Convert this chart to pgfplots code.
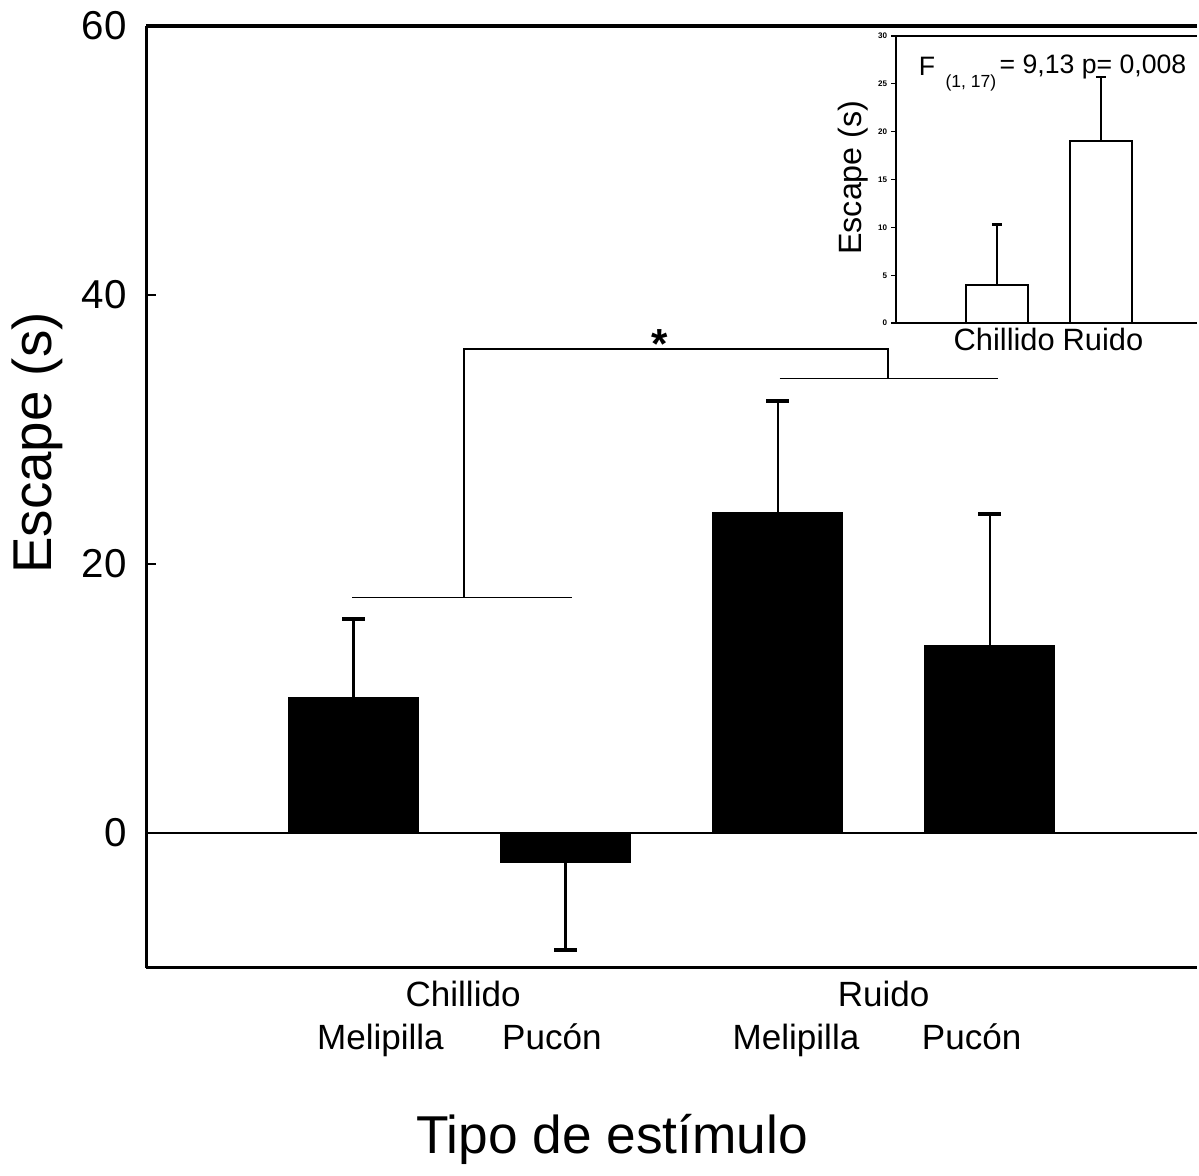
\documentclass[border=0pt]{standalone}
\usepackage{fontspec}
\setmainfont{Liberation Sans}
\usepackage{pgfplots}
\pgfplotsset{compat=1.18}

\begin{document}
\begin{tikzpicture}
% main chart
\begin{axis}[
  at={(0,0)}, anchor=south west,
  scale only axis, width=10.54cm, height=9.44cm,
  xmin=0.022, xmax=4.98, ymin=-10, ymax=60,
  axis y line*=left, axis x line=none,
  axis line style={line width=0.9pt},
  ytick={0,20,40,60}, tick align=inside,
  major tick length=0.1cm, tick style={line width=0.8pt, black},
  /pgf/number format/assume math mode=true,
  yticklabel style={font=\fontsize{11.5}{13}\selectfont, xshift=-2pt},
  clip=false,
]
\draw[line width=0.9pt] (rel axis cs:0,1) -- (rel axis cs:1,1);
\draw[line width=0.9pt] (rel axis cs:0,0) -- (rel axis cs:1,0);
\draw[line width=0.6pt] (axis cs:0.022,0) -- (axis cs:4.98,0);

\addplot[ybar, bar width=1.3cm, bar shift=0pt, fill=black, draw=black,
  error bars/.cd, y dir=plus, y explicit,
  error bar style={line width=0.6pt, black},
  error mark options={rotate=90, mark size=0.115cm, line width=1.2pt, black}]
  coordinates {(1,10.05) +- (0,5.85) (3,23.8) +- (0,8.3) (4,13.9) +- (0,9.8)};
\addplot[ybar, bar width=1.3cm, bar shift=0pt, fill=black, draw=black,
  error bars/.cd, y dir=minus, y explicit,
  error bar style={line width=0.6pt, black},
  error mark options={rotate=90, mark size=0.115cm, line width=1.2pt, black}]
  coordinates {(2,-2.2) +- (0,6.5)};

% significance brackets
\draw[line width=0.45pt] (axis cs:0.995,17.5) -- (axis cs:2.03,17.5);
\draw[line width=0.45pt] (axis cs:1.52,17.5) -- (axis cs:1.52,36.0) -- (axis cs:3.52,36.0) -- (axis cs:3.52,33.8);
\draw[line width=0.45pt] (axis cs:3.01,33.8) -- (axis cs:4.04,33.8);
\node[anchor=base, font=\fontsize{12}{14}\selectfont\bfseries] at (axis cs:2.443,35.3) {*};

% category labels
\node[anchor=base, font=\fontsize{10}{12}\selectfont] at (axis cs:1.517,-12.9) {Chillido};
\node[anchor=base, font=\fontsize{10}{12}\selectfont] at (axis cs:1.127,-16.1) {Melipilla};
\node[anchor=base, font=\fontsize{10}{12}\selectfont] at (axis cs:1.936,-16.1) {Pucón};
\node[anchor=base, font=\fontsize{10}{12}\selectfont] at (axis cs:3.50,-12.9) {Ruido};
\node[anchor=base, font=\fontsize{10}{12}\selectfont] at (axis cs:3.087,-16.1) {Melipilla};
\node[anchor=base, font=\fontsize{10}{12}\selectfont] at (axis cs:3.915,-16.1) {Pucón};

\node[anchor=base, font=\fontsize{15.2}{18}\selectfont] at (axis cs:2.22,-23.8) {Tipo de estímulo};
\node[anchor=base, rotate=90, font=\fontsize{15.6}{18}\selectfont] at (axis cs:-0.425,29.0) {Escape (s)};
\end{axis}

% inset
\begin{axis}[
  at={(7.52cm,6.46cm)}, anchor=south west,
  scale only axis, width=3.02cm, height=2.88cm,
  xmin=0.03, xmax=2.93, ymin=0, ymax=30,
  axis y line*=left, axis x line=none,
  axis line style={line width=0.6pt},
  ytick={0,5,...,30}, tick align=outside,
  major tick length=0.05cm, tick style={line width=0.4pt, black},
  /pgf/number format/assume math mode=true,
  yticklabel style={font=\fontsize{2.3}{3}\selectfont\bfseries, inner sep=1pt},
  clip=false,
]
\draw[line width=0.6pt] (rel axis cs:0,1) -- (rel axis cs:1,1);
\draw[line width=0.6pt] (rel axis cs:0,0) -- (rel axis cs:1,0);

\addplot[ybar, bar width=0.62cm, bar shift=0pt, fill=white, draw=black, line width=0.5pt,
  error bars/.cd, y dir=plus, y explicit,
  error bar style={line width=0.5pt, black},
  error mark options={rotate=90, mark size=0.05cm, line width=0.6pt, black}]
  coordinates {(1,4.0) +- (0,6.3) (2,19.0) +- (0,6.7)};

\node[anchor=base, font=\fontsize{8.8}{10}\selectfont] at (axis cs:1.07,-2.9) {Chillido};
\node[anchor=base, font=\fontsize{8.8}{10}\selectfont] at (axis cs:2.02,-2.9) {Ruido};
\node[anchor=base, rotate=90, font=\fontsize{9.2}{11}\selectfont] at (axis cs:-0.30,15.2) {Escape (s)};
\node[font=\fontsize{7.6}{9}\selectfont] at (axis cs:0.327,26.8) {F};
\node[font=\fontsize{5}{6}\selectfont] at (axis cs:0.75,25.1) {(1, 17)};
\node[anchor=east, inner sep=0pt, font=\fontsize{7.6}{9}\selectfont] at (axis cs:2.83,26.8) {= 9,13 p= 0,008};
\end{axis}
\end{tikzpicture}
\end{document}
